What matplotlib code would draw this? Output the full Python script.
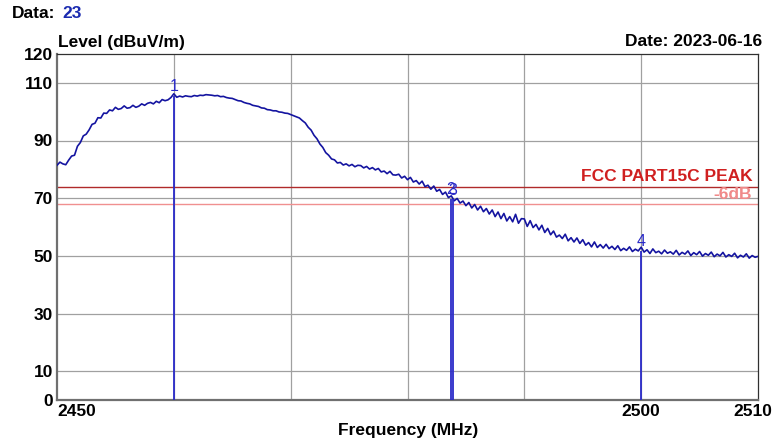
import matplotlib
matplotlib.use('Agg')
import matplotlib.pyplot as plt
import matplotlib.transforms as mtransforms
import numpy as np

plt.rcParams['font.family'] = ['Liberation Sans', 'DejaVu Sans']
plt.rcParams['font.weight'] = 'bold'

# sweep: 2450 .. 2510 MHz, 0.25 MHz step
start_mhz = 2450.0
step_mhz = 0.25
level = [
    81.4, 82.5, 81.9, 81.6, 83.2, 84.6, 84.9, 88.0, 89.3, 91.6,
    92.2, 93.7, 95.6, 96.0, 97.9, 97.8, 99.5, 99.4, 100.6, 100.3,
    101.5, 100.8, 101.1, 102.0, 101.2, 101.4, 102.2, 101.5, 101.9, 102.7,
    102.2, 102.9, 103.2, 102.7, 103.6, 103.1, 104.2, 103.8, 104.1, 104.9,
    106.2, 105.0, 105.4, 105.1, 105.5, 105.3, 105.2, 105.6, 105.4, 105.7,
    105.6, 105.9, 105.8, 105.7, 105.5, 105.6, 105.2, 105.3, 104.9, 104.7,
    104.6, 104.2, 103.8, 103.7, 103.2, 102.9, 102.7, 102.2, 102.0, 101.8,
    101.3, 101.2, 100.7, 100.6, 100.3, 100.3, 99.9, 99.8, 99.5, 99.4,
    99.0, 98.6, 98.2, 97.8, 96.9, 96.1, 94.6, 93.6, 91.8, 90.6,
    88.8, 87.6, 85.8, 84.9, 83.6, 83.3, 82.2, 82.4, 81.5, 81.9,
    81.2, 81.7, 80.9, 81.4, 81.3, 80.5, 81.0, 80.1, 80.6, 79.8,
    80.3, 79.1, 79.4, 78.5, 79.3, 78.1, 78.0, 78.3, 77.0, 77.6,
    76.4, 77.2, 75.6, 76.1, 74.9, 75.9, 74.0, 74.5, 73.1, 74.2,
    72.4, 73.0, 71.3, 72.1, 70.2, 70.8, 69.1, 69.9, 68.3, 69.0,
    67.4, 68.5, 66.6, 67.8, 65.9, 67.2, 65.3, 66.4, 64.5, 65.9,
    63.6, 65.2, 62.9, 64.7, 62.1, 63.6, 61.8, 64.4, 61.3, 62.9,
    62.8, 60.2, 62.2, 59.8, 60.9, 59.0, 60.6, 58.1, 59.5, 57.3,
    58.6, 56.5, 57.2, 56.0, 57.5, 55.2, 56.3, 54.8, 56.2, 54.3,
    55.6, 53.7, 54.6, 53.1, 54.8, 52.9, 53.9, 52.7, 54.0, 52.5,
    53.3, 52.2, 53.5, 51.8, 52.6, 51.9, 53.1, 51.5, 52.3, 51.7,
    53.0, 51.3, 52.1, 50.8, 52.4, 51.1, 51.6, 50.7, 52.0, 50.9,
    51.4, 50.6, 51.9, 50.3, 51.2, 50.6, 51.7, 50.1, 51.1, 50.4,
    51.5, 49.9, 50.8, 50.2, 51.3, 49.7, 50.6, 50.0, 51.2, 49.6,
    50.4, 49.8, 50.9, 49.3, 50.2, 49.6, 50.7, 49.2, 50.1, 49.5,
    49.8,
]

marker_freq = [2460.0, 2483.7, 2483.9, 2500.0]
marker_level = [105.6, 69.8, 69.6, 51.8]
marker_label = ['1', '2', '3', '4']

limit_peak = 74
limit_6db = 68

yticks = [0, 10, 30, 50, 70, 90, 110, 120]
ygrid = [10, 30, 50, 70, 90, 110]
xticks = [2450, 2500, 2510]
xgrid = [2460, 2470, 2480, 2490, 2500]

trace_color = '#1414a0'
marker_color = '#2a2ac8'
fs = 12.5


def main():
    fig = plt.figure(figsize=(7.74, 4.41), dpi=100)
    ax = fig.add_axes([57 / 774, 1 - 400 / 441, 701 / 774, 346 / 441])

    freq = start_mhz + step_mhz * np.arange(len(level))

    for g in ygrid:
        ax.axhline(g, color='#a0a0a0', lw=0.9, zorder=1)
    for g in xgrid:
        ax.axvline(g, color='#a0a0a0', lw=0.9, zorder=1)

    ax.axhline(limit_peak, color='#b02a2a', lw=1.0, zorder=2)
    ax.axhline(limit_6db, color='#f09090', lw=1.0, zorder=2)

    ax.plot(freq, level, color=trace_color, lw=1.2, zorder=3)

    # markers
    for f, lv, lab in zip(marker_freq, marker_level, marker_label):
        ax.vlines(f, 0, lv, color=marker_color, lw=1.3, zorder=4)
        ax.text(f, lv + 0.5, lab, color=marker_color, fontsize=11.5,
                fontweight='normal', ha='center', va='bottom', zorder=5)

    ax.text(2509.5, limit_peak + 0.8, 'FCC PART15C PEAK', color='#d02020',
            fontsize=fs, ha='right', va='bottom')
    ax.text(2509.5, 71.2, '-6dB', color='#f08a8a', fontsize=fs,
            ha='right', va='center')

    ax.set_xlim(2450, 2510)
    ax.set_ylim(0, 120)
    ax.set_yticks(yticks)
    ax.set_xticks(xticks)
    ax.set_xticklabels([str(t) for t in xticks])
    ax.tick_params(length=0, labelsize=fs, pad=3)
    labels = ax.get_xticklabels()
    labels[0].set_horizontalalignment('left')
    # last label pulled left a little so it stays inside the figure
    shift = mtransforms.ScaledTranslation(-5 / 100, 0, fig.dpi_scale_trans)
    labels[-1].set_transform(labels[-1].get_transform() + shift)

    for side in ['left', 'bottom']:
        ax.spines[side].set_color('#707070')
        ax.spines[side].set_linewidth(1.6)
    for side in ['top', 'right']:
        ax.spines[side].set_color('#303030')
        ax.spines[side].set_linewidth(0.9)

    fig.text(12 / 774, 1 - 14 / 441, 'Data:', fontsize=fs, va='center')
    fig.text(62 / 774, 1 - 14 / 441, '23', fontsize=fs, va='center',
             color='#1a2ab0')
    fig.text(58 / 774, 1 - 42 / 441, 'Level (dBuV/m)', fontsize=fs,
             va='center')
    fig.text(762 / 774, 1 - 42 / 441, 'Date: 2023-06-16', fontsize=fs,
             va='center', ha='right')
    fig.text(408 / 774, 1 - 430 / 441, 'Frequency (MHz)', fontsize=fs,
             va='center', ha='center')

    fig.savefig('out.png', dpi=100)


if __name__ == '__main__':
    main()
